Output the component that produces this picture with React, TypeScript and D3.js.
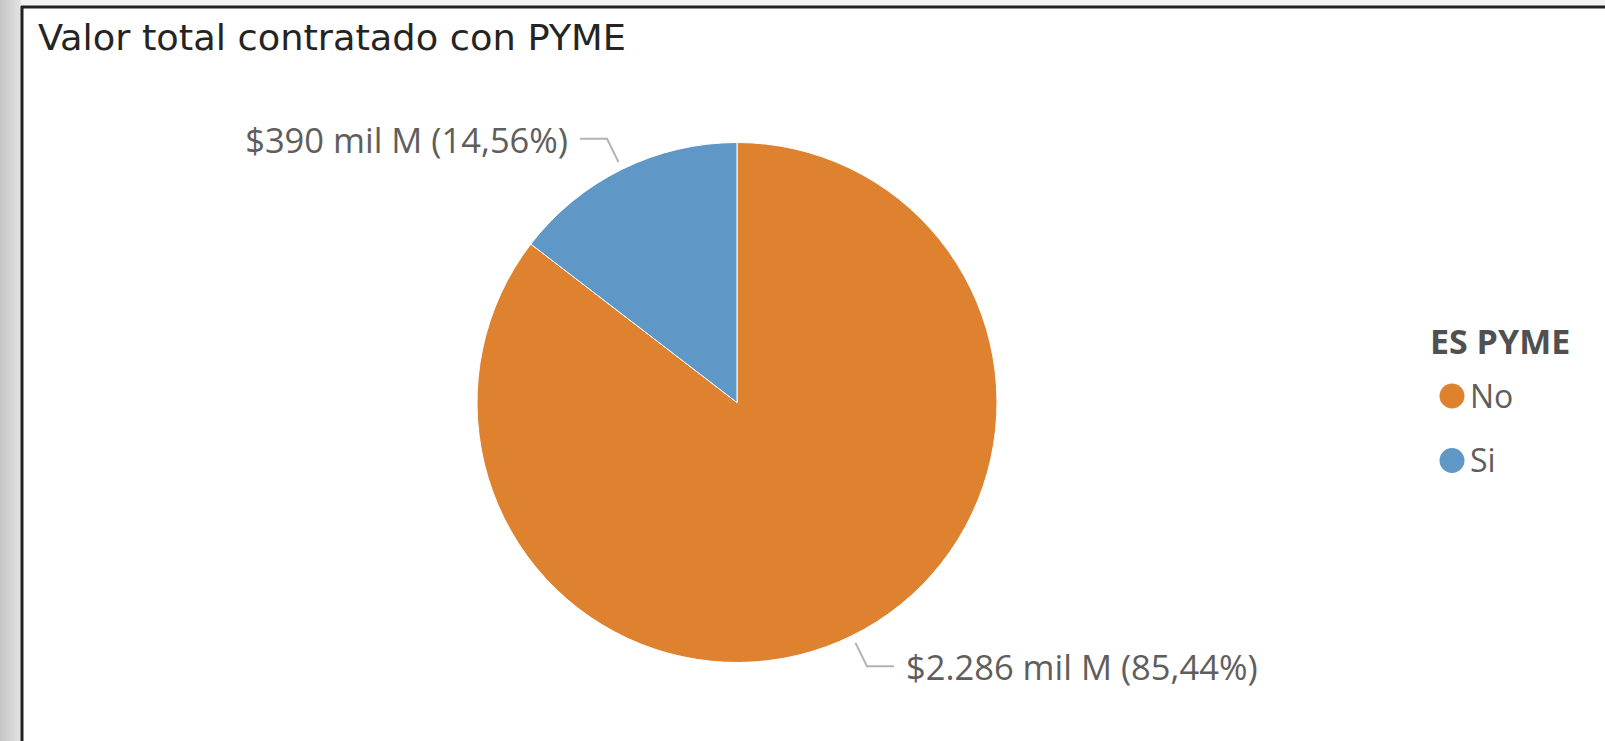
import React from "react";
import * as d3 from "d3";

const categories = ["No", "Si"];
const values = [2286, 390];
const valueLabels = ["$2.286 mil M", "$390 mil M"];
const percentLabels = ["85,44%", "14,56%"];
const colors = ["#DE8230", "#5F97C6"];
const title = "Valor total contratado con PYME";
const legendTitle = "ES PYME";

const W = 1605;
const H = 741;
const cx = 737;
const cy = 402.5;
const R = 260;

export default function App() {
  const pie = d3
    .pie<number>()
    .sort(null)
    .value((d) => d)
    .startAngle(0)
    .endAngle(2 * Math.PI);
  const arcs = pie(values);
  const arc = d3.arc<d3.PieArcDatum<number>>().innerRadius(0).outerRadius(R);
  const color = d3.scaleOrdinal<string, string>().domain(categories).range(colors);

  const labelFont = "'Open Sans', 'Segoe UI', sans-serif";

  return (
    <svg
      width={W}
      height={H}
      style={{ position: "absolute", left: 0, top: 0, display: "block" }}
    >
      <defs>
        <linearGradient id="shadowL" x1="0" x2="1" y1="0" y2="0">
          <stop offset="0" stopColor="#c4c4c4" />
          <stop offset="1" stopColor="#e4e4e4" />
        </linearGradient>
      </defs>
      <rect x={0} y={0} width={W} height={H} fill="#f4f4f4" />
      <rect x={0} y={0} width={21} height={H} fill="url(#shadowL)" />
      <rect x={21} y={6} width={W - 21} height={H - 6} fill="#ffffff" />
      <line x1={22} y1={6} x2={22} y2={H} stroke="#222" strokeWidth={3} />
      <line x1={21} y1={7} x2={W} y2={7} stroke="#222" strokeWidth={3} />

      <text
        x={38}
        y={50}
        fontFamily="'DejaVu Sans Condensed', 'DejaVu Sans', sans-serif"
        fontSize={36}
        fill="#252423"
        textLength={588}
        lengthAdjust="spacingAndGlyphs"
      >
        {title}
      </text>

      <g transform={`translate(${cx},${cy})`}>
        {arcs.map((a, i) => (
          <path
            key={categories[i]}
            d={arc(a) || ""}
            fill={color(categories[i])}
            stroke="#ffffff"
            strokeWidth={1}
          />
        ))}
        {arcs.map((a, i) => {
          const mid = (a.startAngle + a.endAngle) / 2;
          const dx = Math.sin(mid);
          const dy = -Math.cos(mid);
          const r1 = R + 8;
          const r2 = R + 34;
          const p1 = [dx * r1, dy * r1];
          const p2 = [dx * r2, dy * r2];
          const dir = dx >= 0 ? 1 : -1;
          const p3 = [p2[0] + dir * 27, p2[1]];
          const tx = p3[0] + dir * 12;
          return (
            <g key={"lbl" + i}>
              <polyline
                points={`${p1[0]},${p1[1]} ${p2[0]},${p2[1]} ${p3[0]},${p3[1]}`}
                fill="none"
                stroke="#b3b3b3"
                strokeWidth={2}
              />
              <text
                x={tx}
                y={p3[1]}
                dy="0.4em"
                textAnchor={dir > 0 ? "start" : "end"}
                fontFamily={labelFont}
                fontSize={34.5}
                fill="#605E5C"
              >
                {`${valueLabels[i]} (${percentLabels[i]})`}
              </text>
            </g>
          );
        })}
      </g>

      <g>
        <text
          x={1430}
          y={354}
          fontFamily={labelFont}
          fontWeight="bold"
          fontSize={34}
          fill="#505050"
        >
          {legendTitle}
        </text>
        {categories.map((c, i) => (
          <g key={c} transform={`translate(0, ${396 + i * 64.5})`}>
            <circle cx={1452} cy={0} r={12.5} fill={color(c)} />
            <text
              x={1470}
              y={0}
              dy="0.36em"
              fontFamily={labelFont}
              fontSize={32}
              fill="#605E5C"
            >
              {c}
            </text>
          </g>
        ))}
      </g>
    </svg>
  );
}
